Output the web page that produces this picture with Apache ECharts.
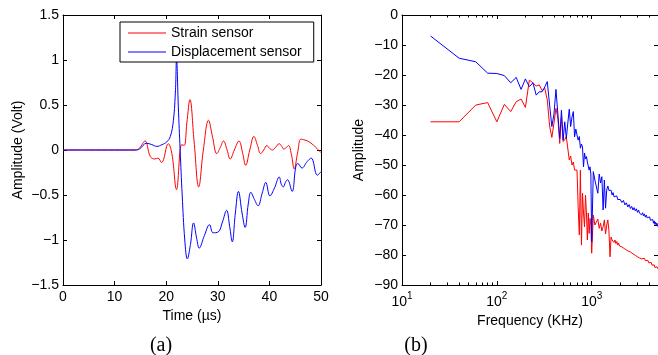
<!DOCTYPE html>
<html>
<head>
<meta charset="utf-8">
<script src="https://cdn.jsdelivr.net/npm/echarts@6/dist/echarts.min.js"></script>
<style>
html,body{margin:0;padding:0;background:#fff;}
#chart{width:658px;height:355px;}
</style>
</head>
<body>
<div id="chart"></div>
<script>
// ---------- (a) time-domain signals ----------
const strainTime = [0,5,10,14,14.8, 15.9,16.9,17.8,18.4,19.1, 20.4,21.1,22.0,23.0,23.5, 24.0,24.6,25.4,26.3,27.2,
  28.2,29.0,29.8,30.5,31.1, 31.8,32.4,33.2,34.1,34.8, 35.4,36.2,37.0,37.7,38.3, 38.9,39.5,40.0,40.6,41.2,
  41.9,42.4,42.8,43.3,43.7, 44.3,44.8,45.5,46.1,46.9, 47.7,48.8,50];
const strainVolt = [0,0,0,0,0.02, 0.1,-0.07,-0.1,-0.09,-0.14, 0.07,-0.04,-0.44,0.06,0.05, 0.3,0.56,0.1,-0.41,0.0,
  0.33,0.14,-0.04,0.03,0.1, 0.0,-0.1,0.0,0.1,-0.03, -0.17,0.0,0.15,0.05,-0.04, 0.0,0.05,0.02,0.0,0.03,
  0.07,0.04,0.01,0.03,0.05, -0.06,-0.21,-0.02,0.12,0.11, 0.09,0.04,-0.03];

const dispTime = [0,5,10,14,14.8, 16.2,17.2,18.2,19.2,20.1, 20.8,21.4,21.8,22.0,22.35, 22.7,23.1,23.6,24.1,24.7,
  25.3,25.9,26.4,27.4,28.4, 29.1,30.1,30.9,31.7,32.3, 32.8,33.4,34.0,34.7,35.3, 35.9,36.4,37.1,37.8,38.6,
  39.3,40.1,41.0,41.9,42.3, 42.7,43.1,43.5,44.4,45.1, 45.5,46.3,47.3,48.1,49.3, 50];
const dispVolt = [0,0,0,0,0.01, 0.075,0.06,0.04,0.06,0.09, 0.15,0.33,0.67,1.02,0.48, 0.0,-0.5,-1.0,-1.21,-1.05,
  -0.81,-0.98,-1.09,-0.95,-0.83, -0.92,-0.91,-0.8,-0.67,-0.85, -1.02,-0.7,-0.46,-0.7,-0.86, -0.6,-0.47,-0.55,-0.62,-0.48,
  -0.36,-0.51,-0.42,-0.30,-0.38, -0.41,-0.36,-0.33,-0.46,-0.19, -0.15,-0.2,-0.13,-0.09,-0.28, -0.24];

// ---------- (b) spectra ----------
const freqKHz = [
  20,40,60,80,100,120,140,160,180,200,
  220,240,260,280,300,320,340,360,380,400,
  420,440,460,480,500,520,540,560,580,600,
  620,640,660,680,700,720,740,760,780,800,
  820,840,860,880,900,920,940,960,980,1000,
  1040,1080,1120,1160,1200,1240,1280,1320,1360,1400,
  1440,1480,1520,1560,1600,1640,1680,1720,1760,1800,
  1840,1880,1920,1960,2000,
  2080,2160,2240,2320,2400,2480,2560,2640,2720,2800,
  2880,2960,3040,3120,3200,3280,3360,3440,3520,3600,
  3680,3760,3840,3920,4000,4080,4160,4240,4320,4400,
  4480,4560,4640,4720,4800,4880,4960];
const strainAmp = [
  -35.6,-35.6,-30,-29.2,-35.6,-29.8,-32.2,-28.9,-28,-30.8,
  -21.7,-22.6,-23.7,-23.3,-25.2,-24.4,-28.3,-37,-40.8,-36,
  -31.1,-34.4,-42.8,-33.9,-42.2,-41.5,-40.6,-41,-48.3,-47,
  -50,-49,-51.7,-51.7,-51.7,-63.9,-73.3,-51.7,-76.7,-59.4,
  -66,-70.6,-60,-66,-75,-66,-72.8,-67.8,-70,-79.4,
  -66.7,-70,-70.6,-68,-71.1,-69.4,-72,-70.6,-68.3,-73,
  -70,-68.3,-72,-80.6,-74,-75,-74.5,-75.8,-75,-76.2,
  -75.5,-76.7,-76,-77,-76.5,
  -77.3,-76.8,-78,-77.4,-78.6,-78,-79,-78.5,-79.6,-79,
  -80.1,-79.6,-80.6,-80,-81,-80.4,-81.3,-80.8,-81.6,-81.1,
  -81.9,-81.4,-82.2,-81.8,-82.6,-82.1,-83,-82.5,-83.4,-82.9,
  -83.8,-83.3,-84.2,-83.6,-84.4,-83.9,-84.6];
const dispAmp = [
  -7,-14.4,-15.6,-19.4,-19.5,-20.2,-22.6,-20.8,-24.8,-21.3,
  -23.9,-22.6,-26.7,-25.6,-25.6,-24,-22.2,-30,-37.2,-33,
  -24.8,-33,-41.1,-31.7,-41.7,-35.6,-41.1,-36,-31.4,-37.2,
  -34,-32.2,-40.6,-38,-40,-41.7,-40.5,-44.4,-43,-44,
  -50.6,-46,-48,-47.2,-49,-48.5,-51.7,-50.6,-53,-75.6,
  -52.2,-55,-54.4,-59.4,-53,-56,-53.9,-65,-55,-64.4,
  -58.3,-57,-58.5,-59,-58.4,-60,-59.2,-60.6,-60,-61,
  -60.3,-61.5,-61,-62,-61.5,
  -62.5,-61.8,-63.3,-62.6,-64,-63.2,-64.5,-63.8,-65,-64.2,
  -65.3,-64.6,-65.8,-65,-66.1,-65.5,-66.6,-65.9,-67,-66.3,
  -67.4,-66.7,-67.6,-67,-68.1,-67.3,-68.4,-67.8,-68.9,-68.2,
  -69.4,-68.6,-69.8,-69,-70.2,-69.4,-70.5];

// ---------- ticks ----------
const timeTicks = [0,10,20,30,40,50];
const voltTicks = [-1.5,-1,-0.5,0,0.5,1,1.5];
const ampTicks = [-90,-80,-70,-60,-50,-40,-30,-20,-10,0];
const freqMajor = [10,100,1000];
const freqMinor = [20,30,40,50,60,70,80,90,200,300,400,500,600,700,800,900,2000,3000,4000,5000];
const freqMax = 5000;

const seriesNames = ['Strain sensor','Displacement sensor'];
const colors = ['#ff0000','#0000ff'];

const FONT = 'Liberation Sans, Arial, sans-serif';
const minus = v => String(v).replace('-', '\u2212');
const zip = (a,b) => a.map((x,i)=>[x,b[i]]);

const frame = {show:true, onZero:false, lineStyle:{color:'#000', width:1}};
const tickIn = (len) => ({show:true, inside:true, length:len, lineStyle:{color:'#000', width:1}});
const lbl = {color:'#000', fontSize:14, fontFamily:FONT};

const chart = echarts.init(document.getElementById('chart'), null, {renderer:'canvas'});
const logMinor = freqMinor.map(v=>Math.log10(v));

chart.setOption({
  animation:false,
  backgroundColor:'#fff',
  textStyle:{fontFamily:FONT},
  grid:[
    {left:63, top:15, width:258, height:270},
    {left:402, top:15, width:259, height:270}
  ],
  legend:{
    data:seriesNames, orient:'vertical', left:120, top:22,
    padding:[4,12,3,8], itemGap:5, itemWidth:38, itemHeight:1.2,
    icon:'rect', borderColor:'#000', borderWidth:1, backgroundColor:'#fff',
    textStyle:{fontSize:14, fontFamily:FONT, color:'#000', padding:[0,0,0,0]},
    selectedMode:false
  },
  xAxis:[
    {type:'value', gridIndex:0, min:timeTicks[0], max:timeTicks[timeTicks.length-1], interval:10, position:'bottom',
     axisLine:frame, axisTick:tickIn(4), splitLine:{show:false},
     axisLabel:Object.assign({margin:5}, lbl),
     name:'Time (\u00b5s)', nameLocation:'middle', nameGap:21, nameTextStyle:{fontSize:14, fontFamily:FONT, color:'#000'}},
    {type:'value', gridIndex:0, min:timeTicks[0], max:timeTicks[timeTicks.length-1], interval:10, position:'top',
     axisLine:frame, axisTick:tickIn(4), axisLabel:{show:false}, splitLine:{show:false}},
    {type:'log', logBase:10, gridIndex:1, min:freqMajor[0], max:freqMax, position:'bottom',
     axisLine:frame, axisTick:tickIn(4), splitLine:{show:false}, minorTick:{show:false},
     axisLabel:{margin:6, showMaxLabel:false, color:'#000', fontFamily:FONT,
       formatter:function(v){ const e=Math.log10(v); if(Math.abs(e-Math.round(e))>1e-6) return ''; return '{b|10}{s|'+Math.round(e)+'}'; },
       rich:{b:{fontSize:14, fontFamily:FONT, color:'#000', verticalAlign:'bottom'},
             s:{fontSize:10, fontFamily:FONT, color:'#000', verticalAlign:'bottom', padding:[0,0,8,0]}}},
     name:'Frequency (KHz)', nameLocation:'middle', nameGap:28, nameTextStyle:{fontSize:14, fontFamily:FONT, color:'#000'}},
    {type:'log', logBase:10, gridIndex:1, min:freqMajor[0], max:freqMax, position:'top',
     axisLine:frame, axisTick:tickIn(4), axisLabel:{show:false}, splitLine:{show:false}},
    {type:'value', gridIndex:1, min:1, max:Math.log10(freqMax), position:'bottom',
     axisLine:{show:false, onZero:false}, axisTick:Object.assign(tickIn(2.5), {customValues:logMinor}),
     axisLabel:{show:false}, splitLine:{show:false}},
    {type:'value', gridIndex:1, min:1, max:Math.log10(freqMax), position:'top',
     axisLine:{show:false, onZero:false}, axisTick:Object.assign(tickIn(2.5), {customValues:logMinor}),
     axisLabel:{show:false}, splitLine:{show:false}}
  ],
  yAxis:[
    {type:'value', gridIndex:0, min:voltTicks[0], max:voltTicks[voltTicks.length-1], interval:0.5, position:'left',
     axisLine:frame, axisTick:tickIn(4), splitLine:{show:false},
     axisLabel:Object.assign({margin:4, formatter:minus}, lbl),
     name:'Amplitude (Volt)', nameLocation:'middle', nameGap:38, nameTextStyle:{fontSize:14, fontFamily:FONT, color:'#000'}},
    {type:'value', gridIndex:0, min:voltTicks[0], max:voltTicks[voltTicks.length-1], interval:0.5, position:'right',
     axisLine:frame, axisTick:tickIn(4), axisLabel:{show:false}, splitLine:{show:false}},
    {type:'value', gridIndex:1, min:ampTicks[0], max:ampTicks[ampTicks.length-1], interval:10, position:'left',
     axisLine:frame, axisTick:tickIn(4), splitLine:{show:false},
     axisLabel:Object.assign({margin:4, formatter:minus}, lbl),
     name:'Amplitude', nameLocation:'middle', nameGap:36, nameTextStyle:{fontSize:14, fontFamily:FONT, color:'#000'}},
    {type:'value', gridIndex:1, min:ampTicks[0], max:ampTicks[ampTicks.length-1], interval:10, position:'right',
     axisLine:frame, axisTick:tickIn(4), axisLabel:{show:false}, splitLine:{show:false}}
  ],
  graphic:[
    {type:'text', x:161, y:346, style:{text:'(a)', fontSize:20, fontFamily:'Liberation Serif, Times New Roman, serif', fill:'#000', align:'center', verticalAlign:'middle'}},
    {type:'text', x:416, y:346, style:{text:'(b)', fontSize:20, fontFamily:'Liberation Serif, Times New Roman, serif', fill:'#000', align:'center', verticalAlign:'middle'}}
  ],
  series:[
    {name:seriesNames[0], type:'line', xAxisIndex:0, yAxisIndex:0, data:zip(strainTime, strainVolt),
     symbol:'none', smooth:0.4, lineStyle:{width:1, color:colors[0]}, itemStyle:{color:colors[0]}},
    {name:seriesNames[1], type:'line', xAxisIndex:0, yAxisIndex:0, data:zip(dispTime, dispVolt),
     symbol:'none', smooth:0.4, lineStyle:{width:1, color:colors[1]}, itemStyle:{color:colors[1]}},
    {name:seriesNames[0], type:'line', xAxisIndex:2, yAxisIndex:2, data:zip(freqKHz, strainAmp),
     symbol:'none', lineStyle:{width:1, color:colors[0]}, itemStyle:{color:colors[0]}},
    {name:seriesNames[1], type:'line', xAxisIndex:2, yAxisIndex:2, data:zip(freqKHz, dispAmp),
     symbol:'none', lineStyle:{width:1, color:colors[1]}, itemStyle:{color:colors[1]}}
  ]
});
</script>
</body>
</html>
